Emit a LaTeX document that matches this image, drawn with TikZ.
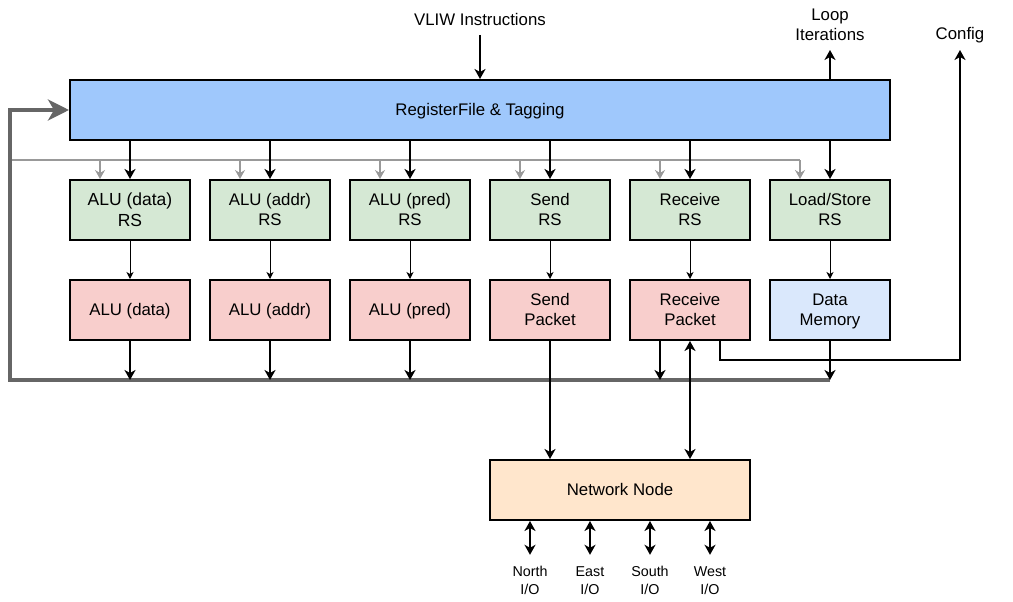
\documentclass[tikz,border=0pt]{standalone}
\usepackage{fontspec}
\setmainfont{Liberation Sans}
\usetikzlibrary{arrows.meta}
\definecolor{rfblue}{RGB}{159,200,252}
\definecolor{rsgreen}{HTML}{D5E8D4}
\definecolor{exred}{HTML}{F8CECC}
\definecolor{dmblue}{HTML}{DAE8FC}
\definecolor{nnorange}{HTML}{FFE6CC}
\definecolor{gline}{HTML}{999999}
\definecolor{busgray}{HTML}{666666}
\newcommand\sr{\rule[-3pt]{0pt}{17pt}}
\newcommand\srsm{\rule[-3pt]{0pt}{14pt}}
\begin{document}
\begin{tikzpicture}[x=1pt,y=-1pt,
  txt/.style={font=\fontsize{16.8}{20}\selectfont},
  box/.style={draw=black, line width=2pt, minimum width=120pt, minimum height=60pt, inner sep=0pt, align=center, txt},
  rs/.style={box, fill=rsgreen},
  ex/.style={box, fill=exred},
  lbl/.style={align=center, inner sep=0pt, txt},
  small/.style={align=center, inner sep=0pt, font=\fontsize{14.3}{18}\selectfont},
  arr/.style={-{Stealth[length=10pt,width=11pt,inset=3pt]}, line width=2pt},
  darr/.style={{Stealth[length=10pt,width=11pt,inset=3pt]}-{Stealth[length=10pt,width=11pt,inset=3pt]}, line width=2pt},
  tarr/.style={-{Stealth[length=7pt,width=7pt,inset=2pt]}, line width=1pt},
  garr/.style={-{Stealth[length=9pt,width=10pt,inset=3pt]}, line width=2pt, draw=gline},
  gl/.style={line width=2pt, draw=gline},
  bus/.style={-{Stealth[length=21pt,width=21pt,inset=6pt]}, line width=4pt, draw=busgray},
]
\useasboundingbox (0,0) rectangle (1013,602);

% register file
\node[box, fill=rfblue, minimum width=820pt] (rf) at (480,110) {\sr RegisterFile \& Tagging};

% reservation stations
\node[rs, font=\fontsize{17.5}{21}\selectfont] (rs1) at (130,210) {\sr ALU (data)\\\sr RS};
\node[rs] (rs2) at (270,210) {\sr ALU (addr)\\\sr RS};
\node[rs] (rs3) at (410,210) {\sr ALU (pred)\\\sr RS};
\node[rs] (rs4) at (550,210) {\sr Send\\\sr RS};
\node[rs] (rs5) at (690,210) {\sr Receive\\\sr RS};
\node[rs] (rs6) at (830,210) {\sr Load/Store\\\sr RS};

% execution units
\node[ex] (ex1) at (130,310) {\sr ALU (data)};
\node[ex] (ex2) at (270,310) {\sr ALU (addr)};
\node[ex] (ex3) at (410,310) {\sr ALU (pred)};
\node[ex] (ex4) at (550,310) {\sr Send\\\sr Packet};
\node[ex] (ex5) at (690,310) {\sr Receive\\\sr Packet};
\node[box, fill=dmblue] (dm) at (830,310) {\sr Data\\\sr Memory};

% network node
\node[box, fill=nnorange, minimum width=260pt] (nn) at (620,490) {\sr Network Node};

% top labels
\node[lbl] (vliw) at (480,20) {\sr VLIW Instructions};
\node[lbl] (loop) at (830,25) {\sr Loop\\\sr Iterations};
\node[lbl] (config) at (960,34) {\sr Config};
\coordinate (vtail) at (480,35);
\coordinate (looptip) at (830,50);
\coordinate (cfgtip) at (960,50);
\coordinate (cfgcorner) at (960,360);

% bottom labels
\node[small] (north) at (530,581) {\srsm North\\\srsm I/O};
\node[small] (east) at (590,581) {\srsm East\\\srsm I/O};
\node[small] (south) at (650,581) {\srsm South\\\srsm I/O};
\node[small] (west) at (710,581) {\srsm West\\\srsm I/O};

% bus coordinates
\coordinate (busR) at (830,380);
\coordinate (busL) at (10,380);
\coordinate (busT) at (10,110);
\coordinate (gL) at (10,160);

% instruction input and loop output
\draw[arr] (vtail) -- (rf.north);
\draw[arr] (rf.north -| looptip) -- (looptip);

% gray line
\draw[gl] (gL) -- ([xshift=-30pt]rs6.north |- gL);
\foreach \n in {rs1,rs2,rs3,rs4,rs5,rs6}{
  \draw[garr] ([xshift=-30pt]\n.north |- gL) -- ([xshift=-30pt]\n.north);
  \draw[arr] (rf.south -| \n.north) -- (\n.north);
}

% RS -> units
\draw[tarr] (rs1) -- (ex1);
\draw[tarr] (rs2) -- (ex2);
\draw[tarr] (rs3) -- (ex3);
\draw[tarr] (rs4) -- (ex4);
\draw[tarr] (rs5) -- (ex5);
\draw[tarr] (rs6) -- (dm);

% result bus
\draw[bus] (busR) -- (busL) -- (busT) -- (rf.west);
\draw[arr] (ex1.south) -- (ex1.south |- busR);
\draw[arr] (ex2.south) -- (ex2.south |- busR);
\draw[arr] (ex3.south) -- (ex3.south |- busR);
\draw[arr] ([xshift=-30pt]ex5.south) -- ([xshift=-30pt]ex5.south |- busR);
\draw[arr] (dm.south) -- (dm.south |- busR);

% config path
\draw[arr] ([xshift=30pt]ex5.south) -- ([xshift=30pt]ex5.south |- cfgcorner) -- (cfgcorner) -- (cfgtip);

% network connections
\draw[arr] (ex4.south) -- (ex4.south |- nn.north);
\draw[darr] (ex5.south |- nn.north) -- (ex5.south);

% I/O
\draw[darr] (nn.south -| north) -- ([yshift=10pt]north.north);
\draw[darr] (nn.south -| east) -- ([yshift=10pt]east.north);
\draw[darr] (nn.south -| south) -- ([yshift=10pt]south.north);
\draw[darr] (nn.south -| west) -- ([yshift=10pt]west.north);
\end{tikzpicture}
\end{document}
